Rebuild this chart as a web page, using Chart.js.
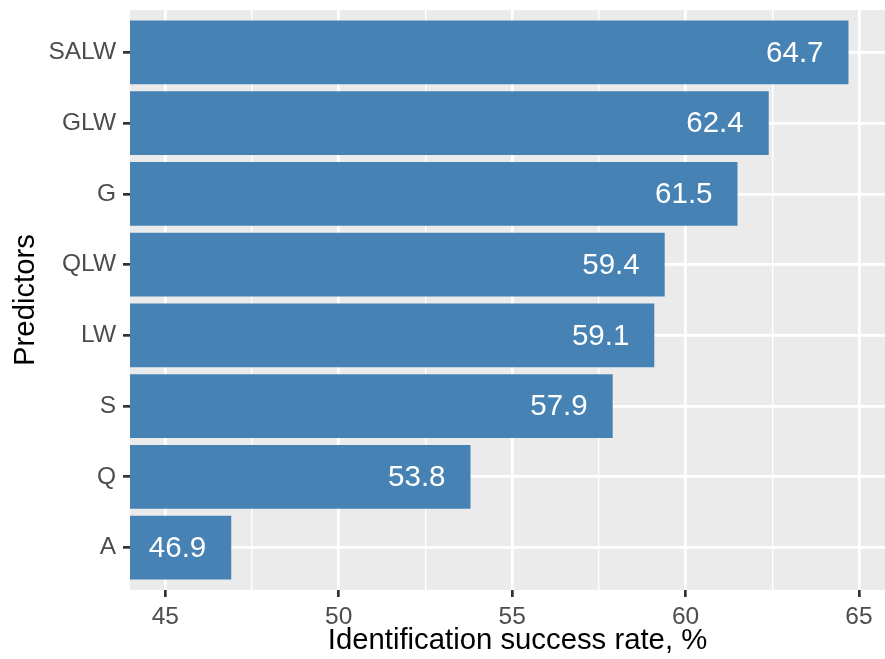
<!DOCTYPE html>
<html>
<head>
<meta charset="utf-8">
<script src="https://cdn.jsdelivr.net/npm/chart.js@4.4.1/dist/chart.umd.min.js"></script>
<style>
    html, body { margin: 0; padding: 0; background: #ffffff; }
    #wrap { width: 885px; height: 659px; overflow: hidden; }
    canvas { display: block; }
</style>
</head>
<body>
<div id="wrap"><canvas id="chart" width="905" height="659"></canvas></div>
<script>
// bottom to top, as ggplot draws them
const predictors = ["A", "Q", "S", "LW", "QLW", "G", "GLW", "SALW"];
const successRates = [46.9, 53.8, 57.9, 59.1, 59.4, 61.5, 62.4, 64.7];
const xTickValues = [45, 47.5, 50, 52.5, 55, 57.5, 60, 62.5, 65];

const FONT = "'Liberation Sans', Arial, Helvetica, sans-serif";
const isMajor = (v) => v % 5 === 0;

// grey panel behind the grid, like theme_grey
const panelBackground = {
    id: "panelBackground",
    beforeDraw(chart) {
        const {ctx, chartArea: a} = chart;
        ctx.save();
        ctx.fillStyle = "#ffffff";
        ctx.fillRect(0, 0, chart.width, chart.height);
        ctx.fillStyle = "#EBEBEB";
        ctx.fillRect(a.left, a.top, a.right - a.left, a.bottom - a.top);
        ctx.restore();
    },
};

// white value text inside the end of every bar
const barLabels = {
    id: "barLabels",
    afterDatasetsDraw(chart) {
        const ctx = chart.ctx;
        const meta = chart.getDatasetMeta(0);
        ctx.save();
        ctx.fillStyle = "#ffffff";
        ctx.font = "29.5px " + FONT;
        ctx.textAlign = "right";
        ctx.textBaseline = "middle";
        meta.data.forEach((bar, i) => {
            ctx.fillText(successRates[i].toFixed(1), bar.x - 25, bar.y + 1);
        });
        ctx.restore();
    },
};

new Chart(document.getElementById("chart"), {
    type: "bar",
    data: {
        datasets: [
            {
                data: successRates.map((v, i) => ({x: v, y: i + 1})),
                backgroundColor: "#4682B4",
                borderWidth: 0,
                categoryPercentage: 1,
                barPercentage: 0.9,
                clip: 0,
            },
        ],
    },
    options: {
        indexAxis: "y",
        responsive: false,
        animation: false,
        layout: {padding: {top: 10, right: 0, bottom: 0, left: 0}},
        plugins: {
            legend: {display: false},
            tooltip: {enabled: false},
        },
        scales: {
            x: {
                type: "linear",
                min: 43.98,
                max: 66.33,
                afterBuildTicks(scale) {
                    scale.ticks = xTickValues.map((v) => ({value: v}));
                },
                afterFit(scale) {
                    scale.height = 69;
                    scale.paddingLeft = 0;
                    scale.paddingRight = 0;
                },
                border: {display: false},
                grid: {
                    color: "#ffffff",
                    lineWidth: (c) => (isMajor(c.tick.value) ? 2.7 : 1.35),
                    tickColor: (c) =>
                        isMajor(c.tick.value) ? "#333333" : "rgba(0,0,0,0)",
                    tickWidth: 2.7,
                    tickLength: 7,
                },
                ticks: {
                    autoSkip: false,
                    maxRotation: 0,
                    padding: 6,
                    color: "#4D4D4D",
                    font: {family: FONT, size: 24.5},
                    callback: (v) => (isMajor(v) ? String(v) : ""),
                },
                title: {
                    display: true,
                    text: "Identification success rate, %",
                    color: "#000000",
                    font: {family: FONT, size: 29.3},
                    padding: {top: 0, bottom: 1},
                },
            },
            y: {
                type: "linear",
                min: 0.4,
                max: 8.6,
                offset: false,
                afterBuildTicks(scale) {
                    scale.ticks = predictors.map((p, i) => ({value: i + 1}));
                },
                afterFit(scale) {
                    scale.width = 130;
                    scale.paddingTop = 0;
                    scale.paddingBottom = 0;
                },
                border: {display: false},
                grid: {
                    offset: false,
                    color: "#ffffff",
                    lineWidth: 2.7,
                    tickColor: "#333333",
                    tickWidth: 2.7,
                    tickLength: 7,
                },
                ticks: {
                    autoSkip: false,
                    padding: 7,
                    color: "#4D4D4D",
                    font: {family: FONT, size: 24.5},
                    callback: (v) => predictors[v - 1],
                },
                title: {
                    display: true,
                    text: "Predictors",
                    color: "#000000",
                    font: {family: FONT, size: 29.3},
                    padding: {top: 8, bottom: 0},
                },
            },
        },
    },
    plugins: [panelBackground, barLabels],
});
</script>
</body>
</html>
